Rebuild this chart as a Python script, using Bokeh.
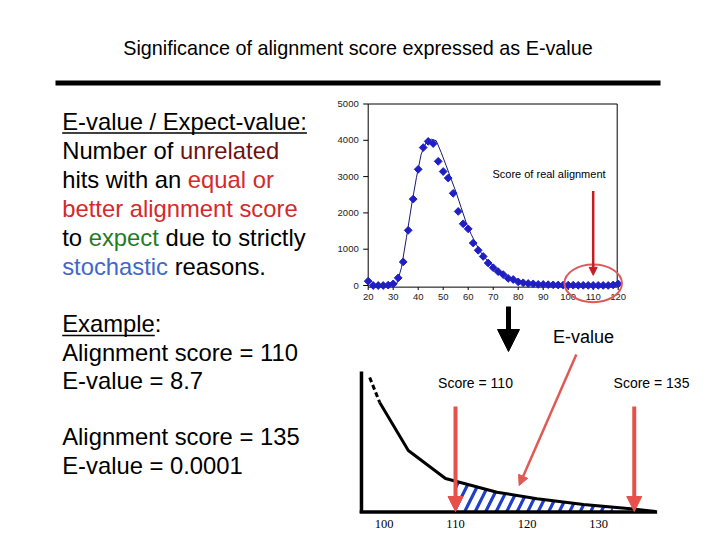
import math
from bokeh.plotting import figure
from bokeh.models import Range1d, Arrow, NormalHead, ColumnDataSource
from bokeh.core.properties import value
from bokeh.embed import file_html
from bokeh.resources import INLINE

# ---------------- data ----------------
title_text = "Significance of alignment score expressed as E-value"

# chart 1: score distribution of unrelated alignments
dist_scores = [20, 22, 24, 26, 28, 30, 32, 34, 36, 38, 40, 42, 44, 46, 48, 50,
               52, 54, 56, 58, 60, 62, 64, 66, 68, 70, 72, 74, 76, 78, 80, 82,
               84, 86, 88, 90, 92, 94, 96, 98, 100, 102, 104, 106, 108, 110,
               112, 114, 116, 118, 120]
dist_counts = [120, 0, 0, 0, 10, 45, 210, 650, 1520, 2380, 3200, 3800, 3970,
               3910, 3420, 3140, 2960, 2540, 2040, 1700, 1560, 1170, 970, 800,
               620, 490, 380, 300, 195, 165, 100, 75, 55, 45, 30, 28, 22, 18,
               14, 12, 10, 8, 6, 5, 4, 3, 3, 2, 2, 15, 45]
fit_scores = [30.5, 31.3, 33.3, 35.3, 37.3, 39.3, 41.2, 43.2, 45.2, 47.2, 49.2,
              51.2, 53.2, 55.2, 57.2, 59.2, 61.2, 63.2, 65.2, 67.8, 70.5, 73.8,
              77.1, 81.1, 87.7, 94.4, 107.6, 119.6]
fit_counts = [0, 20, 490, 1320, 2190, 2975, 3620, 3940, 4030, 3990, 3665, 3300,
              2930, 2560, 2145, 1730, 1410, 1135, 900, 670, 490, 305, 195, 100,
              45, 18, 0, 0]
dist_yticks = [0, 1000, 2000, 3000, 4000, 5000]
dist_xticks = [20, 30, 40, 50, 60, 70, 80, 90, 100, 110, 120]
real_score = 110

# chart 2: tail of the distribution (E-value)
tail_scores = [98.0, 99.4, 103.4, 108.6, 115.8, 121.4, 127.9, 134.5, 138.0]
tail_density = [134, 109, 61, 33, 19.3, 12.7, 7, 2.7, 0]
tail_area_scores = [110, 115.8, 121.4, 127.9, 132.0]
tail_area_density = [30, 19.3, 12.7, 7, 4.3]
tail_xticks = [100, 110, 120, 130]
example_scores = [110, 135]
example_evalues = ["8.7", "0.0001"]

# ---------------- styling helpers ----------------
SANS = value("Liberation Sans")
SERIF = value("Liberation Serif")
BLACK = "#000000"
MAROON = "#6e1212"
RED = "#d42a2a"
GREEN = "#1f7d1f"
BLUE = "#3f68c8"

W = {' ': 0.278, 'E': 0.667, '-': 0.333, 'v': 0.5, 'a': 0.556, 'l': 0.222,
     'u': 0.556, 'e': 0.556, '/': 0.278, 'x': 0.5, 'p': 0.556, 'c': 0.5,
     't': 0.278, ':': 0.278, 'N': 0.722, 'm': 0.833, 'b': 0.556, 'r': 0.333,
     'o': 0.556, 'f': 0.278, 'h': 0.556, 'i': 0.222, 's': 0.5, 'w': 0.722,
     'n': 0.556, 'q': 0.556, 'g': 0.556, 'd': 0.556, 'y': 0.5, '.': 0.278}


def adv(s, size):
    return sum(W.get(c, 0.556) for c in s) * size


PW, PH = 712, 532


def mapped_range(d0, p0, d1, p1, lo, hi):
    k = (d1 - d0) / (p1 - p0)
    return Range1d(start=d0 + (lo - p0) * k, end=d0 + (hi - p0) * k)


p = figure(width=PW, height=PH, x_range=Range1d(0, PW), y_range=Range1d(PH, 0),
           x_axis_type=None, y_axis_type=None, toolbar_location=None,
           output_backend="svg", min_border=0, title=None,
           outline_line_color=None, background_fill_color="white",
           border_fill_color="white")

p.extra_x_ranges = {"d1x": mapped_range(20, 367.7, 120, 617.7, 0, PW),
                    "d2x": mapped_range(110, 455, 130, 598, 0, PW)}
p.extra_y_ranges = {"d1y": mapped_range(0, 285, 5000, 103.5, PH, 0),
                    "d2y": mapped_range(0, 511, 100, 411, PH, 0)}

# ---------------- title ----------------
p.text(x=[357.5], y=[47], text=[title_text], text_font=SANS,
       text_font_size="19.8px", text_align="center", text_baseline="middle",
       text_color=BLACK)
p.segment(x0=[55], y0=[82.5], x1=[660], y1=[82.5], line_width=5,
          line_color=BLACK, line_cap="butt")

# ---------------- left text ----------------
top_lines = [
    [("E-value / Expect-value:", BLACK)],
    [("Number of", BLACK), ("unrelated", MAROON)],
    [("hits with an", BLACK), ("equal or", RED)],
    [("better alignment score", RED)],
    [("to", BLACK), ("expect", GREEN), ("due to strictly", BLACK)],
    [("stochastic", BLUE), ("reasons.", BLACK)],
]
top_base = [129.5, 158.5, 187.5, 216.5, 245.5, 274.5]
TOP_SIZE = 23.8
X0 = 61.7
tx, ty, tt, tc = [], [], [], []
for line, yb in zip(top_lines, top_base):
    prefix = ""
    for seg, col in line:
        tx.append(X0 + adv(prefix, TOP_SIZE))
        ty.append(yb - 0.36 * TOP_SIZE)
        tt.append(seg)
        tc.append(col)
        prefix += seg + " "
p.text(x=tx, y=ty, text=tt, text_color=tc, text_font=SANS,
       text_font_size=f"{TOP_SIZE}px", text_align="left",
       text_baseline="middle")
p.segment(x0=[X0], y0=[132.5], x1=[X0 + adv("E-value / Expect-value:", TOP_SIZE)],
          y1=[132.5], line_width=1.6, line_color=BLACK)

LOW_SIZE = 23.8
low_lines = ["Example:",
             f"Alignment score = {example_scores[0]}",
             f"E-value = {example_evalues[0]}",
             f"Alignment score = {example_scores[1]}",
             f"E-value = {example_evalues[1]}"]
low_base = [331.7, 360.3, 388.3, 445, 473.3]
p.text(x=[X0] * len(low_lines), y=[b - 0.36 * LOW_SIZE for b in low_base],
       text=low_lines, text_color=BLACK, text_font=SANS,
       text_font_size=f"{LOW_SIZE}px", text_align="left", text_baseline="middle")
p.segment(x0=[X0], y0=[335], x1=[X0 + adv("Example", LOW_SIZE)], y1=[335],
          line_width=1.6, line_color=BLACK)

# ---------------- chart 1 ----------------
c1 = dict(x_range_name="d1x", y_range_name="d1y")
p.quad(left=[20], right=[119.6], bottom=[-45], top=[5000], fill_color=None,
       line_color=BLACK, line_width=1, **c1)
p.segment(x0=[18] * len(dist_yticks), x1=[20] * len(dist_yticks),
          y0=dist_yticks, y1=dist_yticks, line_color=BLACK, line_width=1, **c1)
p.text(x=[16.2] * len(dist_yticks), y=dist_yticks,
       text=[str(v) for v in dist_yticks], text_font=SANS,
       text_font_size="9.5px", text_align="right", text_baseline="middle",
       text_color="#222222", **c1)
p.segment(x0=dist_xticks, x1=dist_xticks, y0=[-45] * len(dist_xticks),
          y1=[-125] * len(dist_xticks), line_color=BLACK, line_width=1, **c1)
p.text(x=dist_xticks, y=[-310] * len(dist_xticks),
       text=[str(v) for v in dist_xticks], text_font=SANS,
       text_font_size="9.5px", text_align="center", text_baseline="middle",
       text_color="#222222", **c1)
p.line(fit_scores, fit_counts, line_color="#1a1a6e", line_width=1, **c1)
p.scatter(dist_scores, dist_counts, marker="square", angle=math.pi / 4, size=5.5,
          fill_color="#1f1fc4", line_color="#1f1fc4", line_width=1, **c1)
p.ellipse(x=[real_score], y=[60], width=[23], height=[1040], fill_color=None,
          line_color="#dc5a5a", line_width=2, **c1)
p.add_layout(Arrow(x_start=real_score, y_start=2600, x_end=real_score, y_end=280,
                   line_color="#c41e24", line_width=2.5,
                   end=NormalHead(size=8, fill_color="#c41e24",
                                  line_color="#c41e24"), **c1))
p.text(x=[69.7], y=[3058], text=["Score of real alignment"], text_font=SANS,
       text_font_size="11px", text_align="left", text_baseline="middle",
       text_color=BLACK, **c1)

# ---------------- arrow between charts ----------------
p.add_layout(Arrow(x_start=508, y_start=306, x_end=508, y_end=351,
                   line_color=BLACK, line_width=5,
                   end=NormalHead(size=22, fill_color=BLACK, line_color=BLACK)))
p.text(x=[583], y=[336], text=["E-value"], text_font=SANS, text_font_size="18px",
       text_align="center", text_baseline="middle", text_color=BLACK)

# ---------------- chart 2 ----------------
c2 = dict(x_range_name="d2x", y_range_name="d2y")
p.varea(x=tail_area_scores, y1=[0] * len(tail_area_scores), y2=tail_area_density,
        fill_color=None, hatch_pattern="/", hatch_color="#1f3fc8",
        hatch_weight=3.2, hatch_scale=21, **c2)
p.line(tail_scores[:2], tail_density[:2], line_color=BLACK, line_width=3,
       line_dash="5 3", **c2)
p.line(tail_scores[1:], tail_density[1:], line_color=BLACK, line_width=3, **c2)
p.segment(x0=[96.85], y0=[-1.5], x1=[96.85], y1=[140], line_color=BLACK,
          line_width=3.5, **c2)
p.segment(x0=[96.6], y0=[-0.5], x1=[138.2], y1=[-0.5], line_color=BLACK,
          line_width=3.5, **c2)
p.text(x=tail_xticks, y=[-12.5] * len(tail_xticks),
       text=[str(v) for v in tail_xticks], text_font=SERIF,
       text_font_size="12.5px", text_align="center", text_baseline="middle",
       text_color=BLACK, **c2)

arrow_src = ColumnDataSource(dict(x_start=example_scores, y_start=[105, 105],
                                  x_end=example_scores, y_end=[0, 0]))
p.add_layout(Arrow(source=arrow_src, x_start="x_start", y_start="y_start",
                   x_end="x_end", y_end="y_end", line_color="#e8514b",
                   line_width=4,
                   end=NormalHead(size=15, fill_color="#e8514b",
                                  line_color="#e8514b"), **c2))
p.add_layout(Arrow(x_start=126.9, y_start=157, x_end=118.9, y_end=26,
                   line_color="#e05a55", line_width=2.5,
                   end=NormalHead(size=10, fill_color="#e05a55",
                                  line_color="#e05a55"), **c2))
p.text(x=[475, 651], y=[382, 382], text=[f"Score = {s}" for s in example_scores],
       text_font=SANS, text_font_size="14px", text_align="center",
       text_baseline="middle", text_color=BLACK)

open("out.html", "w").write(file_html(p, INLINE))
